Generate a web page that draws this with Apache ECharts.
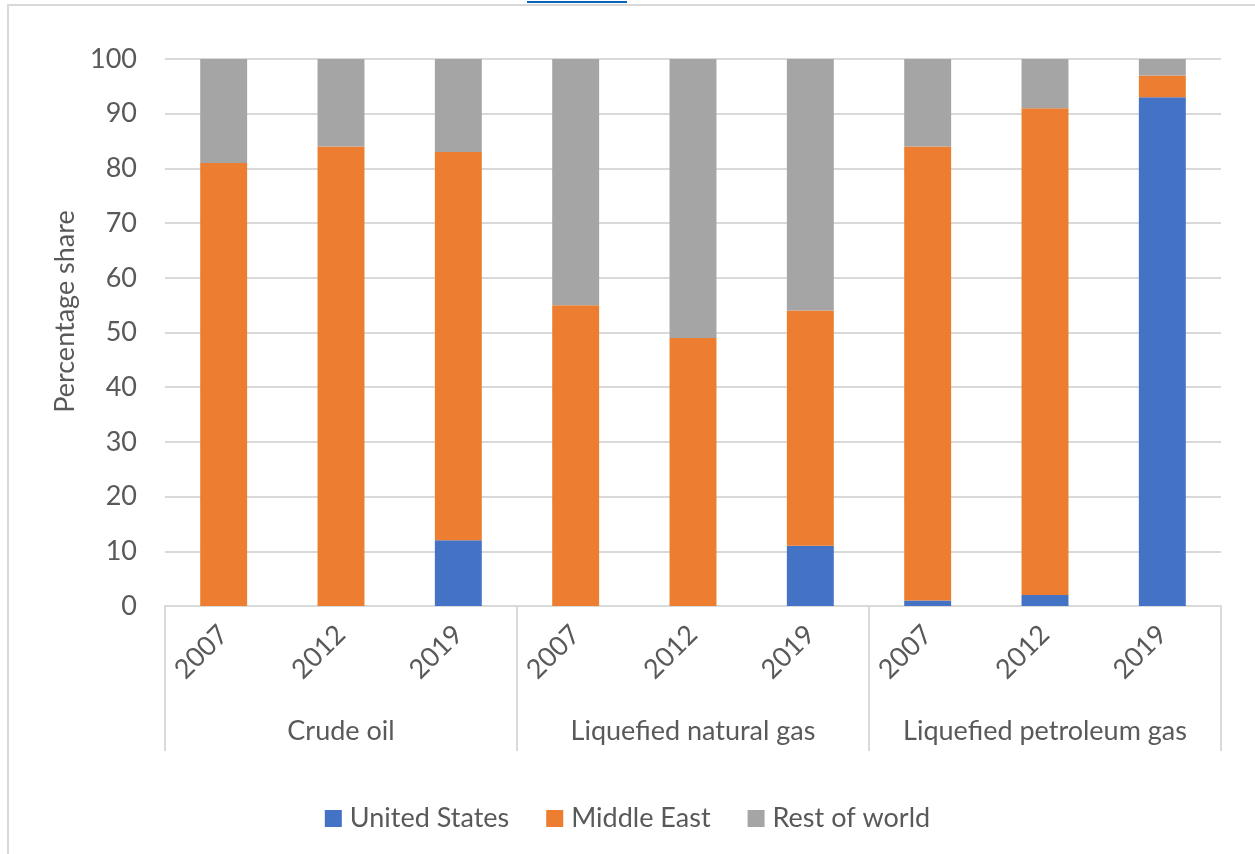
<!DOCTYPE html>
<html>
<head>
<meta charset="utf-8">
<script src="https://cdn.jsdelivr.net/npm/echarts@6/dist/echarts.min.js"></script>
<style>
  html, body { margin: 0; padding: 0; width: 1255px; height: 854px; overflow: hidden; background: #fff; }
  #frame { position: absolute; left: 7px; top: 4px; width: 1400px; height: 1000px; border: 2px solid #d9d9d9; box-sizing: border-box; }
  #chart { position: absolute; left: 0; top: 0; width: 1255px; height: 854px; }
</style>
</head>
<body>
<div id="frame"></div>
<div id="chart"></div>
<script>
// Import source shares by product and year (percent)
const years = ['2007', '2012', '2019', '2007', '2012', '2019', '2007', '2012', '2019'];
const products = ['Crude oil', 'Liquefied natural gas', 'Liquefied petroleum gas'];
const unitedStates = [0, 0, 12, 0, 0, 11, 1, 2, 93];
const middleEast   = [81, 84, 71, 55, 49, 43, 83, 89, 4];
const restOfWorld  = [19, 16, 17, 45, 51, 46, 16, 9, 3];
const yTicks = { min: 0, max: 100, interval: 10 };

const FONT = 'Lato';
const TEXT = '#595959';
const GRIDLINE = '#d9d9d9';
const SIZE = 27;

const chart = echarts.init(document.getElementById('chart'), null, { renderer: 'canvas' });

function bar(name, data, color) {
  return {
    name: name,
    type: 'bar',
    stack: 'share',
    data: data,
    barWidth: '40%',
    itemStyle: { color: color },
    emphasis: { disabled: true }
  };
}

chart.setOption({
  animation: false,
  textStyle: { fontFamily: FONT },
  grid: { left: 165, right: 34, top: 59, bottom: 248, containLabel: false },
  xAxis: [
    {
      type: 'category',
      position: 'bottom',
      data: years,
      axisLine: { lineStyle: { color: GRIDLINE, width: 2 } },
      axisTick: { show: false },
      axisLabel: { rotate: 45, margin: 24, color: TEXT, fontSize: SIZE, fontFamily: FONT, interval: 0 }
    },
    {
      type: 'category',
      position: 'bottom',
      data: products,
      axisLine: { show: false },
      axisTick: { show: true, length: 145, interval: 0, lineStyle: { color: GRIDLINE, width: 2 } },
      axisLabel: { margin: 112, color: TEXT, fontSize: SIZE, fontFamily: FONT, interval: 0 }
    }
  ],
  yAxis: {
    type: 'value',
    min: yTicks.min,
    max: yTicks.max,
    interval: yTicks.interval,
    name: 'Percentage share',
    nameLocation: 'middle',
    nameGap: 83,
    nameTextStyle: { color: TEXT, fontSize: SIZE, fontFamily: FONT, padding: [0, 0, 0, 42] },
    axisLine: { show: false },
    axisTick: { show: false },
    axisLabel: { margin: 28, color: TEXT, fontSize: SIZE, fontFamily: FONT },
    splitLine: { lineStyle: { color: GRIDLINE, width: 2 } }
  },
  legend: {
    bottom: 17,
    left: 'center',
    icon: 'rect',
    itemWidth: 17,
    itemHeight: 17,
    itemGap: 37,
    textStyle: { color: TEXT, fontSize: SIZE, fontFamily: FONT, padding: [0, 0, 0, 3] },
    data: ['United States', 'Middle East', 'Rest of world']
  },
  graphic: [
    {
      type: 'line',
      shape: { x1: 527, y1: 2, x2: 627, y2: 2 },
      style: { stroke: '#0563C1', lineWidth: 2 }
    }
  ],
  series: [
    bar('United States', unitedStates, '#4472C4'),
    bar('Middle East', middleEast, '#ED7D31'),
    bar('Rest of world', restOfWorld, '#A5A5A5')
  ]
});
</script>
</body>
</html>
